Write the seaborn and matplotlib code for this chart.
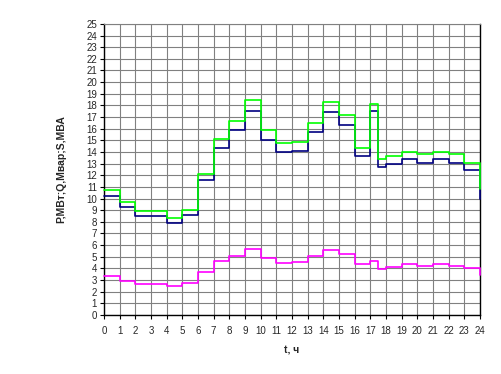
import numpy as np
import pandas as pd
import seaborn as sns
import matplotlib
matplotlib.use("Agg")
import matplotlib.pyplot as plt

# --- Data ---
# hour marks; there is an extra half-hour step at 17.5
T_HOURS = [0, 1, 2, 3, 4, 5, 6, 7, 8, 9, 10, 11, 12, 13, 14, 15, 16,
           17, 17.5, 18, 19, 20, 21, 22, 23, 24]

P_MW = [10.22, 9.25, 8.48, 8.48, 7.9, 8.56, 11.6, 14.35, 15.87, 17.53,
        15.06, 13.98, 14.06, 15.69, 17.41, 16.30, 13.69, 17.53, 12.72,
        12.97, 13.38, 13.09, 13.38, 13.09, 12.43, 10.0]

S_MVA = [10.71, 9.71, 8.93, 8.93, 8.3, 9.0, 12.09, 15.09, 16.69, 18.44,
         15.87, 14.78, 14.86, 16.47, 18.27, 17.16, 14.37, 18.1, 13.38,
         13.66, 14.03, 13.81, 14.03, 13.81, 13.09, 10.8]

Q_MVAR = [3.32, 2.95, 2.64, 2.64, 2.52, 2.72, 3.67, 4.61, 5.04, 5.64,
          4.87, 4.44, 4.53, 5.07, 5.58, 5.21, 4.38, 4.61, 3.98, 4.1,
          4.38, 4.21, 4.38, 4.21, 4.01, 3.44]

X_TICKS = list(range(0, 25))
Y_TICKS = list(range(0, 26))

# --- Styling ---
sns.set_style("white")
plt.rcParams['font.family'] = ['Liberation Sans', 'DejaVu Sans']

fig = plt.figure(figsize=(5.02, 3.74), dpi=100)
ax = fig.add_axes([0.207, 0.158, 0.749, 0.778])

df = pd.DataFrame({"t": T_HOURS, "P": P_MW, "Q": Q_MVAR, "S": S_MVA})

# blue P first, magenta Q, green S on top
sns.lineplot(data=df, x="t", y="P", ax=ax, color="#000080",
             drawstyle="steps-post", linewidth=1.2, zorder=3)
sns.lineplot(data=df, x="t", y="Q", ax=ax, color="#FF00FF",
             drawstyle="steps-post", linewidth=1.2, zorder=3)
sns.lineplot(data=df, x="t", y="S", ax=ax, color="#00FF00",
             drawstyle="steps-post", linewidth=1.2, zorder=4)

# the last drop at t=24 sits on the right border, keep it visible
for line in ax.get_lines():
    line.set_clip_on(False)

ax.set_xlim(0, 24)
ax.set_ylim(0, 25)
ax.set_xticks(X_TICKS)
ax.set_yticks(Y_TICKS)
ax.set_xticklabels([str(v) for v in X_TICKS])
ax.set_yticklabels([str(v) for v in Y_TICKS])

ax.grid(True, color="#808080", linewidth=0.8)
ax.set_axisbelow(True)

for side in ["left", "bottom", "right"]:
    ax.spines[side].set_color("black")
    ax.spines[side].set_linewidth(1.0)
ax.spines["top"].set_color("#808080")
ax.spines["top"].set_linewidth(0.8)

ax.tick_params(axis="both", which="major", direction="out", length=3,
               width=0.8, color="black", labelsize=7, pad=2,
               bottom=True, left=True)
ax.tick_params(axis="x", pad=5)

ax.set_xlabel("t, ч", fontsize=7.5, fontweight="bold", labelpad=7)
ax.set_ylabel("P,МВт;Q,Мвар;S,МВА", fontsize=7.5, fontweight="bold",
              labelpad=14)

fig.savefig("out.png", dpi=100)
